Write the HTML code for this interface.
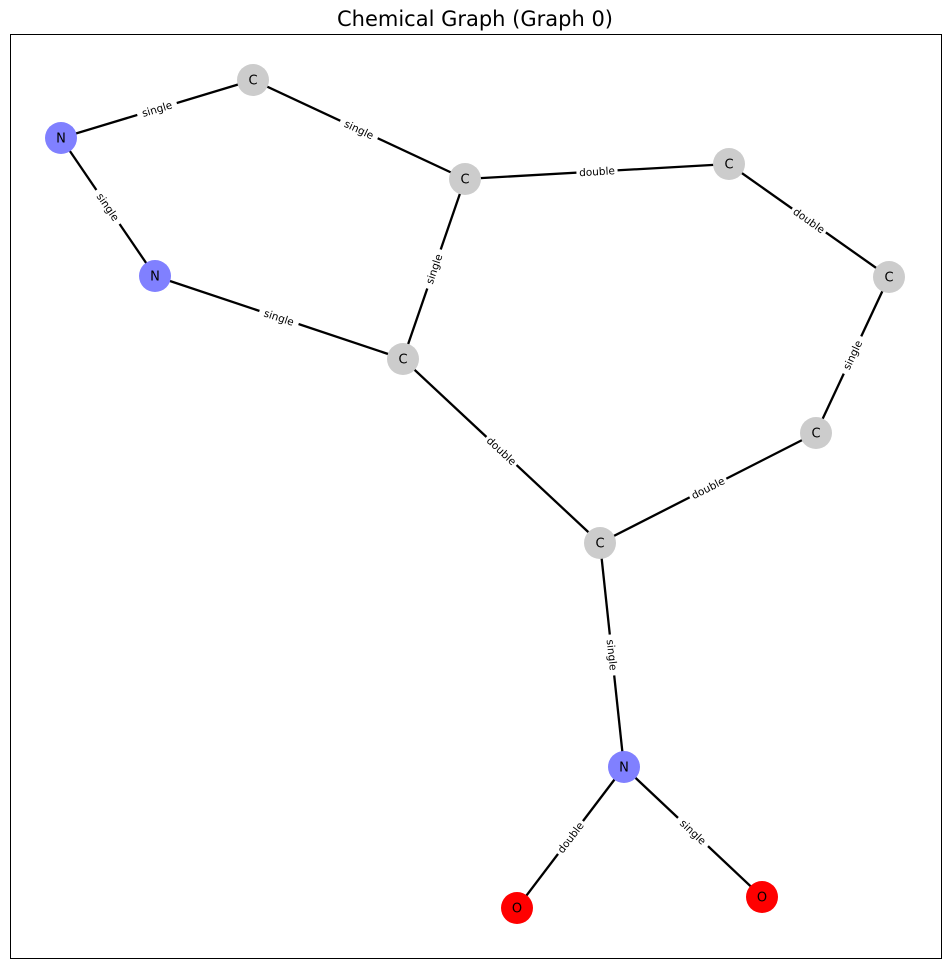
<!DOCTYPE html>
<html><head><meta charset="utf-8"><style>
body{margin:0;background:#fff;}
svg{display:block;font-family:"DejaVu Sans","Liberation Sans",sans-serif;}
</style></head><body>
<svg id="chart" width="950" height="968" viewBox="0 0 950 968">
<text x="475" y="26" text-anchor="middle" font-size="21" fill="#000">Chemical Graph (Graph 0)</text>
<rect x="10.5" y="34.5" width="931" height="924" fill="none" stroke="#000" stroke-width="1"/>
<g id="edges"></g><g id="elabels"></g><g id="nodes"></g>
</svg>
<script>
const nodeLabels = ["C","N","N","C","C","C","C","C","C","N","O","O"];
const nodeX = [253,61,155,465,729,889,403,816,600,624,517,762];
const nodeY = [80,138,276,179,164,277,359,433,543,767,908,897];
const edgeFrom = [1,0,1,2,3,3,4,5,6,7,8,9,9];
const edgeTo   = [0,3,2,6,6,4,5,7,8,8,9,10,11];
const edgeTypes = ["single","single","single","single","single","double","double","single","double","double","single","double","single"];
const colors = {C:"#cccccc",N:"#8080ff",O:"#ff0000"};
const NS="http://www.w3.org/2000/svg";
const gE=document.getElementById('edges'),gL=document.getElementById('elabels'),gN=document.getElementById('nodes');
for(let i=0;i<edgeFrom.length;i++){
  const a=edgeFrom[i],b=edgeTo[i];
  const x1=nodeX[a],y1=nodeY[a],x2=nodeX[b],y2=nodeY[b];
  const l=document.createElementNS(NS,'line');
  l.setAttribute('x1',x1);l.setAttribute('y1',y1);l.setAttribute('x2',x2);l.setAttribute('y2',y2);
  l.setAttribute('stroke','#000');l.setAttribute('stroke-width','2.3');
  
  
  gE.appendChild(l);
  let ang=Math.atan2(y2-y1,x2-x1)*180/Math.PI;
  if(ang>90)ang-=180; if(ang<-90)ang+=180;
  const mx=(x1+x2)/2,my=(y1+y2)/2;
  const g=document.createElementNS(NS,'g');
  g.setAttribute('transform','translate('+mx+','+my+') rotate('+ang+')');
  
  
  const t=document.createElementNS(NS,'text');
  t.textContent=edgeTypes[i];
  t.setAttribute('font-size','10.5');t.setAttribute('text-anchor','middle');t.setAttribute('dy','3.7');
  const w=edgeTypes[i].length*6.2+4;
  const r=document.createElementNS(NS,'rect');
  r.setAttribute('x',-w/2);r.setAttribute('y',-6.5);r.setAttribute('width',w);r.setAttribute('height',13);r.setAttribute('fill','#fff');
  g.appendChild(r);g.appendChild(t);gL.appendChild(g);
}
for(let i=0;i<nodeLabels.length;i++){
  const c=document.createElementNS(NS,'circle');
  c.setAttribute('cx',nodeX[i]);c.setAttribute('cy',nodeY[i]);c.setAttribute('r',16);
  c.setAttribute('fill',colors[nodeLabels[i]]);
  
  
  gN.appendChild(c);
  const t=document.createElementNS(NS,'text');
  t.setAttribute('x',nodeX[i]);t.setAttribute('y',nodeY[i]+4.5);
  t.setAttribute('text-anchor','middle');t.setAttribute('font-size','13');
  t.textContent=nodeLabels[i];
  
  
  gN.appendChild(t);
}
</script>
</body></html>
